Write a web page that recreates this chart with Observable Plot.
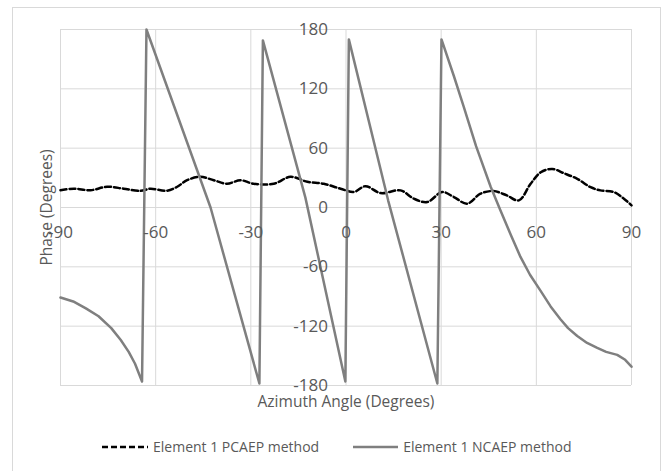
<!DOCTYPE html>
<html>
<head>
<meta charset="utf-8">
<script src="https://cdn.jsdelivr.net/npm/d3@7"></script>
<script src="https://cdn.jsdelivr.net/npm/@observablehq/plot@0.6"></script>
<style>
  html, body { margin: 0; padding: 0; background: #fff; }
  #wrap { position: relative; width: 671px; height: 471px; overflow: hidden; font-family: "Open Sans", sans-serif; }
  #frame { position: absolute; left: 12px; top: 7px; width: 649px; height: 470px; border: 1px solid #d9d9d9; box-sizing: border-box; }
  #chart { position: absolute; left: 0; top: 0; }
  #legend { position: absolute; left: 102px; top: 437px; display: flex; align-items: center; font-size: 14px; color: #595959; white-space: nowrap; }
  #legend .item { display: flex; align-items: center; }
  #legend svg { display: block; }
</style>
</head>
<body>
<div id="wrap">
  <div id="frame"></div>
  <div id="chart"></div>
  <div id="legend"></div>
</div>
<script>
// Element 1 NCAEP method (gray solid)
const azimuthN = [-90, -86, -82, -78, -74, -71, -68.5, -66.5, -64.3,
  -62.9, -42.7, -27.3,
  -26.2, -12.8, -0.2,
  0.9, 13.3, 28.8,
  30.1, 34, 37.1, 41, 45.6, 48.7, 52, 55, 58, 61.3, 64.5, 67.6, 70, 72.9, 76, 79.2, 82, 85.5, 88, 90];
const phaseN = [-91, -95, -102, -110, -122, -134, -146, -158, -176,
  180, 0, -178,
  169, 10, -176,
  170, 7, -178,
  170, 133, 102, 62, 21, -3, -28, -50, -68, -84, -100, -113, -122, -130, -137, -142, -146, -149, -154, -161];

// Element 1 PCAEP method (black dashed)
const azimuthP = [-90, -85.8, -80.5, -75.3, -70.1, -64.8, -61.7, -56.4, -53.2, -50.1, -45.9, -41.7, -37.5, -33.3, -29.1, -22.8, -17.5, -12.2, -7, -1.7,
  2.5, 6.1, 10.9, 17.2, 21.4, 25.6, 30.3, 34, 38.2, 42.4, 46.5, 50.7, 54.5, 58.2, 61.4, 65, 68.7, 72.9, 77.1, 80.2, 84.4, 87.6, 90];
const phaseP = [17.5, 19, 17.5, 21, 19, 16.8, 19, 17, 21, 27.6, 31, 27.6, 24, 27.6, 24, 24, 31, 26, 24, 19,
  15.7, 21.6, 14.6, 17.3, 8.9, 5.5, 15.6, 10.6, 3.9, 14, 16.6, 12.2, 7.2, 24, 35.7, 39, 34.6, 29, 20.5, 17.3, 15.6, 8.9, 2.2];

const xTicks = [-90, -60, -30, 0, 30, 60, 90];
const yTicks = [-180, -120, -60, 0, 60, 120, 180];
const seriesNames = ["Element 1 PCAEP method", "Element 1 NCAEP method"];
const xTitle = "Azimuth Angle (Degrees)";
const yTitle = "Phase (Degrees)";

const nData = azimuthN.map((x, i) => ({x, y: phaseN[i]}));
const pData = azimuthP.map((x, i) => ({x, y: phaseP[i]}));

const gray = "#7f7f7f";
const textColor = "#595959";

const chart = Plot.plot({
  width: 671,
  height: 420,
  marginLeft: 60,
  marginRight: 40,
  marginTop: 29,
  marginBottom: 35,
  x: {domain: [-90, 90], axis: null},
  y: {domain: [-180, 180], axis: null},
  style: {fontFamily: "'Open Sans', sans-serif", background: "transparent", overflow: "visible"},
  marks: [
    Plot.ruleX(xTicks, {x: d => d, stroke: "#d9d9d9", strokeWidth: 1}),
    Plot.ruleY(yTicks, {y: d => d, stroke: "#d9d9d9", strokeWidth: 1}),
    Plot.line(pData, {x: "x", y: "y", stroke: "#000", strokeWidth: 2.5, strokeDasharray: "6,3", curve: "catmull-rom"}),
    Plot.line(nData, {x: "x", y: "y", stroke: gray, strokeWidth: 2.5}),
    Plot.text(yTicks, {x: () => 0, y: d => d, text: d => String(d), dx: -18, textAnchor: "end", fontSize: 17, fill: textColor}),
    Plot.text(xTicks, {x: d => d, y: () => 0, text: d => String(d), dy: 25, textAnchor: "middle", fontSize: 17, fill: textColor}),
    Plot.text([xTitle], {frameAnchor: "bottom", text: d => d, dy: 17, textAnchor: "middle", lineAnchor: "middle", fontSize: 15.5, fill: textColor}),
    Plot.text([yTitle], {frameAnchor: "left", text: d => d, dx: -13, rotate: -90, textAnchor: "middle", lineAnchor: "middle", fontSize: 15.5, fill: textColor})
  ]
});
document.getElementById("chart").appendChild(chart);

// Legend
const legend = document.getElementById("legend");
const styles = [
  {stroke: "#000", dash: "6,3", w: 46, gapAfter: 34},
  {stroke: gray, dash: null, w: 45, gapAfter: 0}
];
seriesNames.forEach((name, i) => {
  const s = styles[i];
  const item = document.createElement("div");
  item.className = "item";
  item.style.marginRight = s.gapAfter + "px";
  item.innerHTML = `<svg width="${s.w}" height="6"><line x1="0" y1="3" x2="${s.w}" y2="3" stroke="${s.stroke}" stroke-width="2.5" ${s.dash ? `stroke-dasharray="${s.dash}"` : ""}/></svg><span style="margin-left:5px">${name}</span>`;
  legend.appendChild(item);
});
</script>
</body>
</html>
